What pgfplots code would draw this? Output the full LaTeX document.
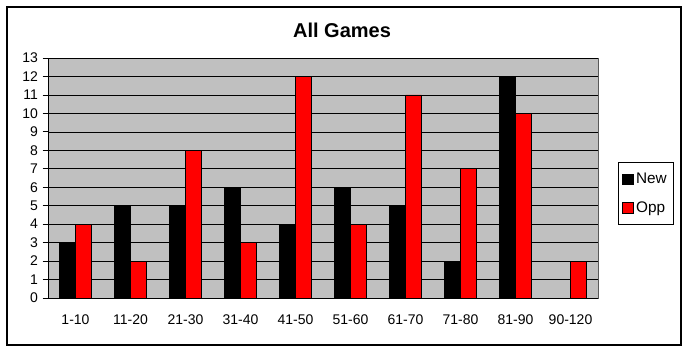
\documentclass[border=0pt]{standalone}
\usepackage{pgfplots}
\pgfplotsset{compat=1.18}
\usepackage{fontspec}
\setmainfont{Liberation Sans}
\definecolor{plotbg}{RGB}{192,192,192}
\definecolor{oppred}{RGB}{255,0,0}
\begin{document}
\begin{tikzpicture}
\path[use as bounding box] (0pt,0pt) rectangle (516pt,263.25pt);
\draw[black,line width=0.9pt] (5.25pt,4.5pt) rectangle (510.75pt,258pt);
\node[font=\bfseries\fontsize{15}{17}\selectfont] at (256.5pt,240.75pt) {All Games};
\begin{axis}[
  at={(36pt,39.75pt)}, anchor=south west,
  scale only axis, width=412.5pt, height=180pt,
  xmin=-0.5, xmax=9.5, ymin=0, ymax=13,
  ybar=0pt, bar width=12pt,
  axis x line*=bottom, axis y line*=left,
  axis line style={black, line width=0.6pt},
  axis background/.style={fill=plotbg, draw=gray!70!black},
  xtick={0,...,9},
  xticklabels={1-10,11-20,21-30,31-40,41-50,51-60,61-70,71-80,81-90,90-120},
  major x tick style={draw=none},
  extra x ticks={-0.5,0.5,...,9.5},
  extra x tick labels={},
  extra x tick style={tick style={black, line width=0.6pt}, major tick length=4pt, tick align=outside, grid=none},
  ytick={0,...,13},
  ymajorgrids, grid style={black, line width=0.5pt},
  ytick style={black, line width=0.6pt}, tick align=outside, major tick length=4pt,
  xticklabel style={font=\fontsize{10.5}{12}\selectfont, yshift=-5pt},
  yticklabel style={font=\fontsize{10.5}{12}\selectfont},
  /pgf/number format/assume math mode=true,
  legend style={at={(1.036,0.435)}, anchor=west, draw=black, line width=0.6pt,
    font=\fontsize{11.5}{13}\selectfont, row sep=8pt, inner xsep=3pt, inner ysep=6pt},
  legend image code/.code={\draw[#1, draw=black, line width=0.4pt] (0pt,-4pt) rectangle (8pt,4pt);},
  legend cell align=left,
]
\addplot[fill=black, draw=black, line width=0.5pt] coordinates {(0,3) (1,5) (2,5) (3,6) (4,4) (5,6) (6,5) (7,2) (8,12) (9,0)};
\addplot[fill=oppred, draw=black, line width=0.5pt] coordinates {(0,4) (1,2) (2,8) (3,3) (4,12) (5,4) (6,11) (7,7) (8,10) (9,2)};
\legend{New, Opp}
\end{axis}
\end{tikzpicture}
\end{document}
